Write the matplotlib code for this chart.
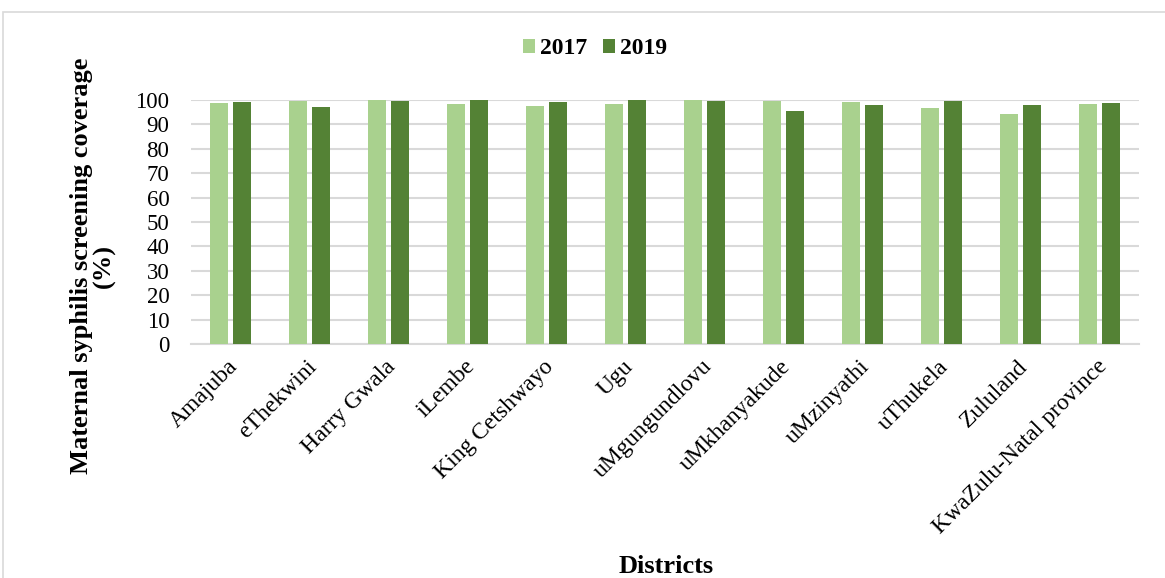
import matplotlib.pyplot as plt
import matplotlib.transforms as mtransforms
import numpy as np
from matplotlib.patches import Rectangle

districts = ['Amajuba', 'eThekwini', 'Harry Gwala', 'iLembe', 'King Cetshwayo', 'Ugu',
             'uMgungundlovu', 'uMkhanyakude', 'uMzinyathi', 'uThukela', 'Zululand',
             'KwaZulu-Natal province']
cov2017 = [98.6, 99.6, 99.8, 98.2, 97.6, 98.4, 100.0, 99.7, 99.2, 96.9, 94.1, 98.4]
cov2019 = [99.0, 97.0, 99.6, 99.9, 99.0, 100.0, 99.7, 95.6, 97.8, 99.6, 98.1, 98.8]
yticks = list(range(0, 101, 10))

plt.rcParams['font.family'] = ['Liberation Serif', 'DejaVu Serif']

fig = plt.figure(figsize=(11.65, 5.78), dpi=100)
W, H = 1165, 578
# plot area in pixels: x 191..1139, y 100..344
ax = fig.add_axes([191/W, (H-344)/H, (1139-191)/W, (344-100)/H])

# chart border
fig.patches.append(Rectangle((3/W, -0.1), 1.2, 1.1 - 12/H, transform=fig.transFigure,
                             fill=False, edgecolor='#D9D9D9', lw=1.2))

x = np.arange(len(districts))
w = 0.222
off = 0.143
ax.bar(x - off, cov2017, w, color='#A9D18E', label='2017', zorder=3)
ax.bar(x + off, cov2019, w, color='#548235', label='2019', zorder=3)

ax.set_xlim(-0.5, len(districts) - 0.5)
ax.set_ylim(0, 100)
ax.set_yticks(yticks)
ax.yaxis.grid(True, color='#D9D9D9', lw=1.5, zorder=0)
ax.set_axisbelow(True)
for s in ['top', 'right', 'left']:
    ax.spines[s].set_visible(False)
ax.spines['bottom'].set_color('#D9D9D9')
ax.spines['bottom'].set_linewidth(1.5)
ax.tick_params(length=0)
ax.tick_params(axis='y', pad=15.5, labelsize=16.5)
ax.tick_params(axis='x', pad=14, labelsize=17)
ax.set_xticks(x)
ax.set_xticklabels(districts, rotation=45, ha='right', va='center', rotation_mode='anchor')
shift = mtransforms.ScaledTranslation(4/100, 0, fig.dpi_scale_trans)
for lab in ax.get_xticklabels():
    lab.set_transform(lab.get_transform() + shift)

fig.text(93/W, 1 - 266/H, 'Maternal syphilis screening coverage\n(%)', rotation=90,
         ha='center', va='center', fontsize=19, fontweight='bold', linespacing=1.0)
fig.text(666/W, 1 - 555/H, 'Districts', ha='center', va='top', fontsize=19,
         fontweight='bold')

fig.legend(loc='center', bbox_to_anchor=(595/W, 1 - 49/H), ncol=2, frameon=False,
           prop={'weight': 'bold', 'size': 17}, handlelength=0.5, handleheight=0.5,
           handletextpad=0.2, columnspacing=0.7)

fig.savefig('out.png', dpi=100)
